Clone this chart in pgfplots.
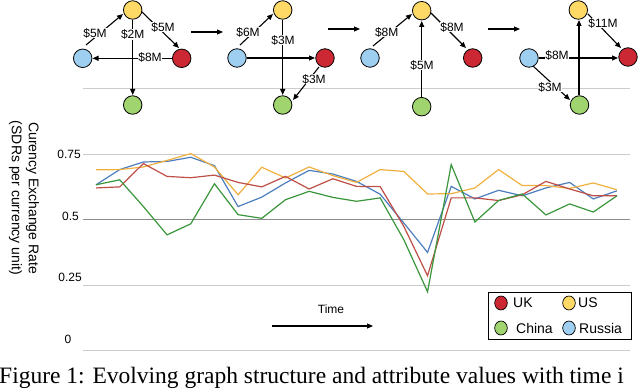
\documentclass[border=0pt]{standalone}
\usepackage{fontspec}
\setmainfont{Liberation Sans}
\newfontfamily\capfont{Liberation Serif}
\usepackage{pgfplots}
\pgfplotsset{compat=1.18}
\usepackage{pgfplotstable}
\usetikzlibrary{arrows.meta}

\definecolor{ukline}{RGB}{190,78,70}
\definecolor{usline}{RGB}{240,176,62}
\definecolor{chinaline}{RGB}{58,150,58}
\definecolor{russialine}{RGB}{76,126,190}
\definecolor{ukfill}{RGB}{204,40,52}
\definecolor{usfill}{RGB}{255,217,102}
\definecolor{chinafill}{RGB}{160,212,110}
\definecolor{russiafill}{RGB}{158,206,240}

% exchange rates, one row per time step
\pgfplotstableread{
t  uk    us    china russia
0  0.621 0.690 0.633 0.633
1  0.625 0.691 0.652 0.691
2  0.714 0.701 0.550 0.720
3  0.665 0.726 0.442 0.722
4  0.660 0.752 0.484 0.738
5  0.670 0.701 0.637 0.706
6  0.642 0.595 0.519 0.550
7  0.625 0.700 0.505 0.586
8  0.665 0.659 0.576 0.640
9  0.617 0.701 0.608 0.688
10 0.656 0.668 0.585 0.674
11 0.627 0.642 0.570 0.646
12 0.626 0.691 0.583 0.597
13 0.474 0.684 0.423 0.487
14 0.286 0.598 0.225 0.375
15 0.583 0.599 0.710 0.627
16 0.583 0.621 0.491 0.579
17 0.573 0.691 0.573 0.612
18 0.595 0.630 0.598 0.591
19 0.646 0.630 0.518 0.621
20 0.617 0.619 0.560 0.642
21 0.591 0.640 0.529 0.579
22 0.591 0.614 0.591 0.610
}\ratedata

\begin{document}
\begin{tikzpicture}[
    dot/.style={circle, draw=black, line width=0.8pt, minimum size=18.5pt, inner sep=0pt},
    ar/.style={-{Triangle[length=6pt,width=5pt]}, line width=1.1pt},
    lab/.style={fill=white, inner sep=0.6pt, font=\fontsize{12}{14}\selectfont},
  ]
  \path[use as bounding box] (0,0) rectangle (640pt,391pt);
  \clip (0,0) rectangle (640pt,391pt);

  \begin{axis}[
      at={(83pt,40.3pt)}, anchor=south west,
      scale only axis,
      width=547pt, height=262.1pt,
      xmin=-0.55, xmax=22.55,
      ymin=0, ymax=1,
      axis line style={draw=none},
      xtick=\empty,
      ytick={0,0.25,0.75},
      yticklabels={},
      extra y ticks={0.5},
      extra y tick labels={},
      extra y tick style={grid style={black!45, line width=1.3pt}},
      major tick length=0pt,
      ymajorgrids=true,
      grid style={black!20, line width=0.9pt},
      clip=false,
    ]
    % top grid line at 1
    \draw[black!20, line width=0.9pt] (axis cs:-0.55,1) -- (axis cs:22.55,1);
    \addplot[russialine, line width=1.2pt, forget plot] table[x=t, y=russia] {\ratedata};
    \addplot[usline,     line width=1.2pt, forget plot] table[x=t, y=us]     {\ratedata};
    \addplot[ukline,     line width=1.2pt, forget plot] table[x=t, y=uk]     {\ratedata};
    \addplot[chinaline,  line width=1.2pt, forget plot] table[x=t, y=china]  {\ratedata};
  \end{axis}

  % everything below in image pixel coordinates (y down)
  \begin{scope}[shift={(0,391pt)}, x=1pt, y=-1pt]
    % tick labels
    \begin{scope}[every node/.style={font=\fontsize{12}{14}\selectfont, inner sep=0pt}]
      \node[anchor=east] at (81,154) {0.75};
      \node[anchor=east] at (79,216) {0.5};
      \node[anchor=east] at (82,277) {0.25};
      \node at (68,339) {0};
    \end{scope}

    % y label
    \node[rotate=-90, align=center, font=\fontsize{14}{17}\selectfont]
      at (24,198) {Curency Exchange Rate\\(SDRs per currency unit)};

    % time arrow
    \node[font=\fontsize{12}{14}\selectfont] at (331,309) {Time};
    \draw[ar] (272,326) -- (373,326);

    % legend
    \draw[black, line width=0.8pt, fill=white] (488,292) rectangle (631,339);
    \begin{scope}[every node/.style={font=\fontsize{14}{16}\selectfont, anchor=west, inner sep=0pt}]
      \draw[black, line width=0.7pt, fill=ukfill]     (501,303) ellipse (6.3pt and 7pt);
      \node at (513,303) {UK};
      \draw[black, line width=0.7pt, fill=usfill]     (569,303) ellipse (6.3pt and 7pt);
      \node at (578,303) {US};
      \draw[black, line width=0.7pt, fill=chinafill]  (501,328) ellipse (6.3pt and 7pt);
      \node at (516,328) {China};
      \draw[black, line width=0.7pt, fill=russiafill] (569,328) ellipse (6.3pt and 7pt);
      \node at (579,328) {Russia};
    \end{scope}

    % panel 1
    \draw[ar] (86,45) -- (123,14);
    \draw[ar] (132.7,20) -- (132.7,95);
    \draw[ar] (172,58.3) -- (92.5,58.3);
    \draw[ar] (142,12) -- (179,48);
    \node[dot, fill=usfill]     at (132.7,10)  {};
    \node[dot, fill=russiafill] at (82.7,58.3) {};
    \node[dot, fill=ukfill]     at (181.7,58.3) {};
    \node[dot, fill=chinafill]  at (132.7,105) {};
    \node[lab] at (95,33) {\$5M};
    \node[lab] at (132.7,34.5) {\$2M};
    \node[lab] at (150,57.5) {\$8M};
    \node[lab] at (163,27) {\$5M};

    \draw[ar] (191,32) -- (223,32);

    % panel 2
    \draw[ar] (240,45) -- (273,14);
    \draw[ar] (282.7,20) -- (282.7,95);
    \draw[ar] (247,58) -- (315,58);
    \draw[ar] (319,67) -- (293,100);
    \node[dot, fill=usfill]     at (282.7,10) {};
    \node[dot, fill=russiafill] at (237,58)   {};
    \node[dot, fill=ukfill]     at (325,58)   {};
    \node[dot, fill=chinafill]  at (282.7,105) {};
    \node[lab] at (248,32) {\$6M};
    \node[lab] at (283,40) {\$3M};
    \node[lab] at (314,79) {\$3M};

    \draw[ar] (328,29) -- (360,29);

    % panel 3
    \draw[ar] (373,46) -- (412,14);
    \draw[ar] (421.7,97) -- (421.7,21);
    \draw[ar] (431,13) -- (466,48);
    \node[dot, fill=usfill]     at (421.7,10.7) {};
    \node[dot, fill=russiafill] at (370,58)     {};
    \node[dot, fill=ukfill]     at (472.7,58)   {};
    \node[dot, fill=chinafill]  at (421.7,106.7) {};
    \node[lab] at (386.7,32) {\$8M};
    \node[lab] at (422,65) {\$5M};
    \node[lab] at (452,27) {\$8M};

    \draw[ar] (488,29) -- (520,29);

    % panel 4
    \draw[ar] (579,95) -- (579,20);
    \draw[ar] (588,14) -- (621,48);
    \draw[ar] (539,58) -- (618,58);
    \draw[ar] (533,66) -- (570,100);
    \node[dot, fill=usfill]     at (578.3,10)  {};
    \node[dot, fill=russiafill] at (529,58)    {};
    \node[dot, fill=ukfill]     at (628,57)    {};
    \node[dot, fill=chinafill]  at (579.5,105) {};
    \node[lab] at (603,23) {\$11M};
    \node[lab] at (557,55) {\$8M};
    \node[lab] at (550,87) {\$3M};

    % caption
    \node[anchor=north west, inner sep=0pt, font=\capfont\fontsize{23.5}{28}\selectfont]
      at (-1,367) {Figure 1: Evolving graph structure and attribute values with time i};
  \end{scope}
\end{tikzpicture}
\end{document}
